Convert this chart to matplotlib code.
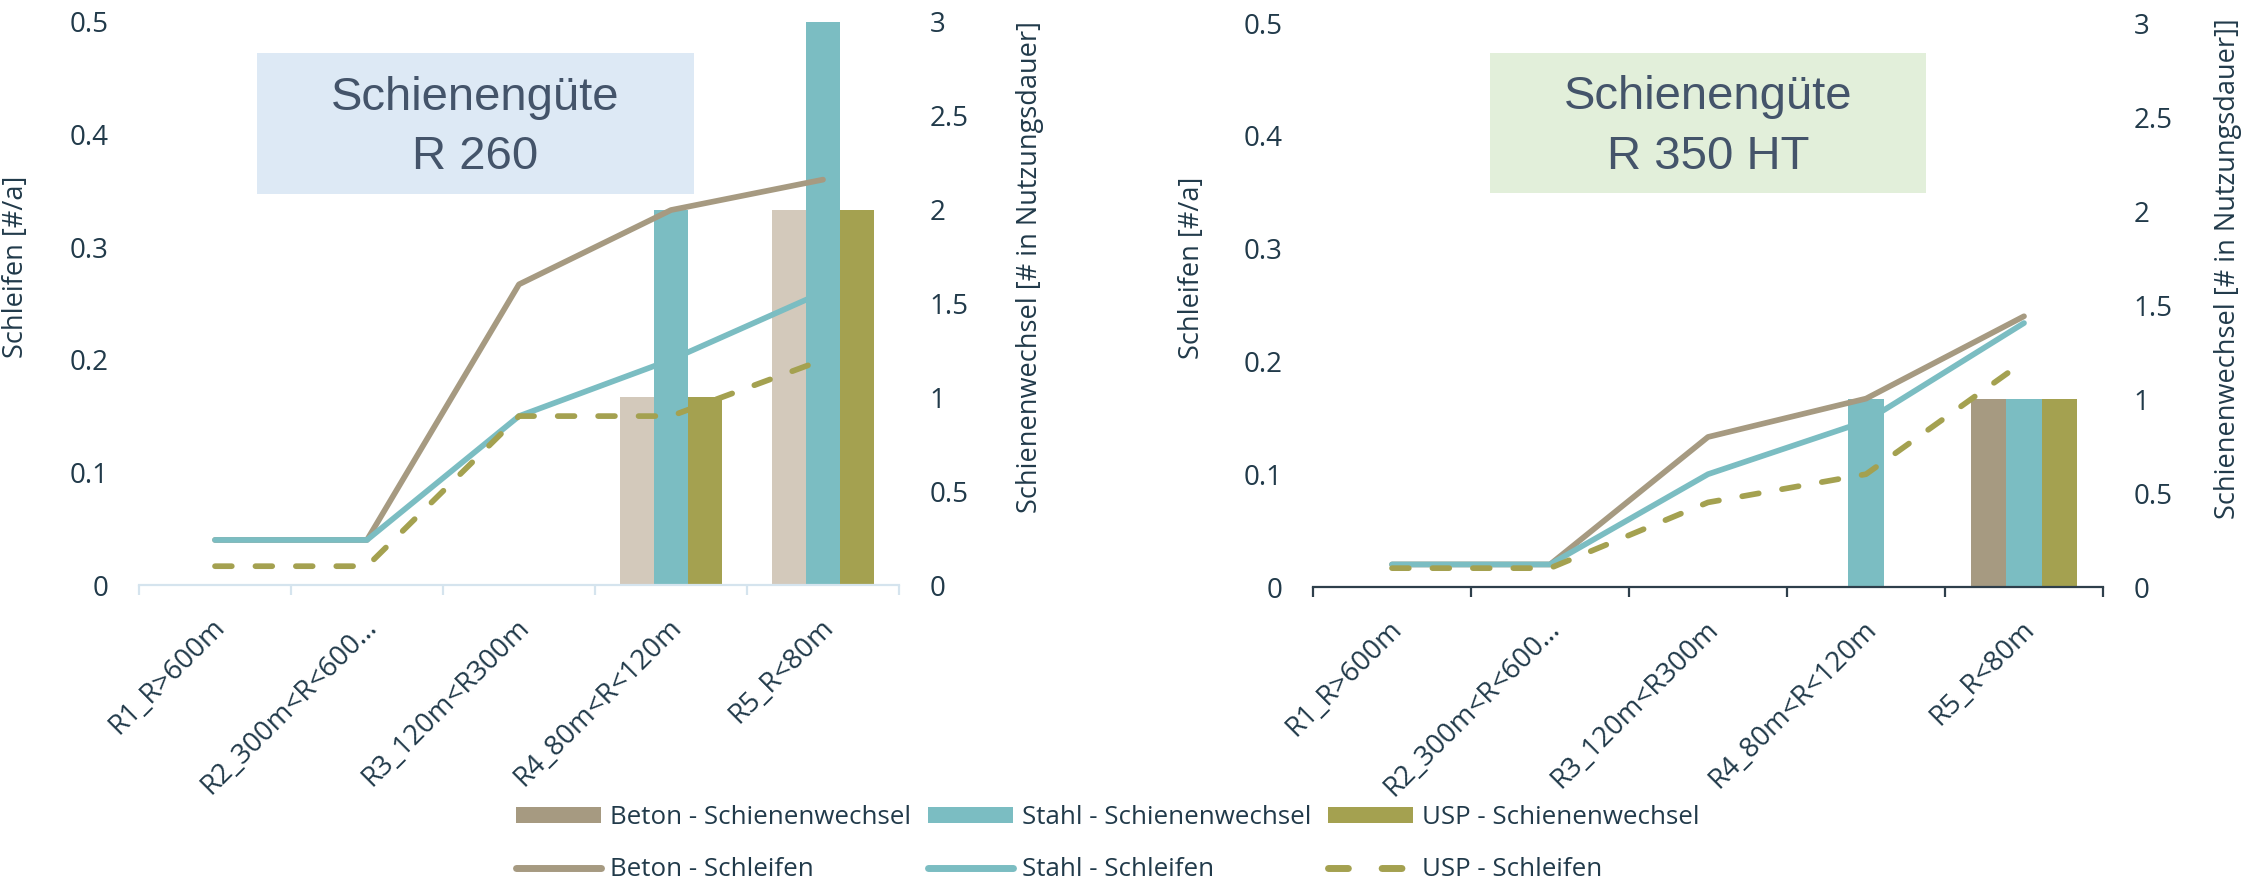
import matplotlib
matplotlib.use("Agg")
import matplotlib.pyplot as plt
import matplotlib.transforms as mtransforms
from matplotlib.patches import Rectangle, Patch
from matplotlib.lines import Line2D
import numpy as np

# ---- data -------------------------------------------------------------
categories = ["R1_R>600m", "R2_300m<R<600…", "R3_120m<R300m",
              "R4_80m<R<120m", "R5_R<80m"]

# R 260: rail changes (right axis) and grinding per year (left axis)
r260_beton_wechsel = [0, 0, 0, 1, 2]
r260_stahl_wechsel = [0, 0, 0, 2, 3]
r260_usp_wechsel = [0, 0, 0, 1, 2]
r260_beton_schleifen = [0.04, 0.04, 0.267, 0.333, 0.36]
r260_stahl_schleifen = [0.04, 0.04, 0.15, 0.20, 0.26]
r260_usp_schleifen = [0.0167, 0.0167, 0.15, 0.15, 0.20]

# R 350 HT
r350_beton_wechsel = [0, 0, 0, 0, 1]
r350_stahl_wechsel = [0, 0, 0, 1, 1]
r350_usp_wechsel = [0, 0, 0, 0, 1]
r350_beton_schleifen = [0.02, 0.02, 0.133, 0.167, 0.24]
r350_stahl_schleifen = [0.02, 0.02, 0.10, 0.147, 0.234]
r350_usp_schleifen = [0.0167, 0.0167, 0.075, 0.10, 0.20]

panel_titles = ["Schienengüte\nR 260", "Schienengüte\nR 350 HT"]
left_axis_label = "Schleifen [#/a]"
right_axis_labels = ["Schienenwechsel [# in Nutzungsdauer]",
                     "Schienenwechsel [# in Nutzungsdauer]]"]
left_ticks = [0, 0.1, 0.2, 0.3, 0.4, 0.5]
right_ticks = [0, 0.5, 1, 1.5, 2, 2.5, 3]
left_tick_labels = ["0", "0.1", "0.2", "0.3", "0.4", "0.5"]
right_tick_labels = ["0", "0.5", "1", "1.5", "2", "2.5", "3"]

# ---- style ------------------------------------------------------------
C_BETON = "#a69a81"
C_BETON_LIGHT = "#d3c9bb"
C_STAHL = "#7bbdc2"
C_USP = "#a4a150"
C_TEXT = "#213a4a"
C_BOX_TEXT = "#44546a"
FONT = "Open Sans"
BOX_FONT = "Liberation Sans"

W, H, DPI = 2246, 886, 100
fig = plt.figure(figsize=(W / DPI, H / DPI), dpi=DPI)


def px_rect(x0, x1, y_top, y_bot):
    return [x0 / W, 1 - y_bot / H, (x1 - x0) / W, (y_bot - y_top) / H]


def draw_panel(rect, beton_w, stahl_w, usp_w, beton_s, stahl_s, usp_s,
               beton_bar_color, spine_color, title, box_px, box_color,
               ylab_x, ylab2_x, ylab2):
    ax = fig.add_axes(rect)
    ax2 = ax.twinx()
    ax.set_zorder(ax2.get_zorder() + 1)
    ax.patch.set_visible(False)

    x = np.arange(len(categories))
    bw = 0.224
    ax2.bar(x - bw, beton_w, bw, color=beton_bar_color, linewidth=0)
    ax2.bar(x, stahl_w, bw, color=C_STAHL, linewidth=0)
    ax2.bar(x + bw, usp_w, bw, color=C_USP, linewidth=0)

    lw = 4.1
    ax.plot(x, beton_s, color=C_BETON, lw=lw, solid_capstyle="round",
            solid_joinstyle="round")
    ax.plot(x, stahl_s, color=C_STAHL, lw=lw, solid_capstyle="round",
            solid_joinstyle="round")
    ax.plot(x, usp_s, color=C_USP, lw=lw, ls=(0, (2.95, 4.15)),
            dash_capstyle="round", solid_joinstyle="round")

    ax.set_xlim(-0.5, len(categories) - 0.5)
    ax.set_ylim(0, 0.5)
    ax2.set_ylim(0, 3)

    for a in (ax, ax2):
        for s in a.spines.values():
            s.set_visible(False)
    ax.spines["bottom"].set_visible(True)
    ax.spines["bottom"].set_color(spine_color)
    ax.spines["bottom"].set_linewidth(1.6)

    # category boundaries carry the tick marks
    ax.set_xticks(np.arange(-0.5, len(categories), 1.0))
    ax.set_xticklabels([])
    ax.tick_params(axis="x", length=7, width=1.6, color=spine_color,
                   direction="out")

    ax.set_yticks(left_ticks)
    ax.set_yticklabels(left_tick_labels)
    ax2.set_yticks(right_ticks)
    ax2.set_yticklabels(right_tick_labels)
    for a in (ax, ax2):
        a.tick_params(axis="y", length=0, pad=22, labelsize=20,
                      labelcolor=C_TEXT)
        for lab in a.get_yticklabels():
            lab.set_fontfamily(FONT)

    # rotated category labels
    off = mtransforms.ScaledTranslation(6 / DPI, -38 / DPI, fig.dpi_scale_trans)
    trans = ax.get_xaxis_transform() + off
    for i, cat in enumerate(categories):
        ax.text(i, 0, cat, transform=trans, rotation=45,
                rotation_mode="anchor", ha="right", va="center",
                fontsize=20, family=FONT, color=C_TEXT)

    ax.set_ylabel(left_axis_label, fontsize=19.5, family=FONT,
                  color=C_TEXT)
    ax.yaxis.set_label_coords(ylab_x, 0.565)
    ax2.set_ylabel(ylab2, fontsize=19.5, family=FONT, color=C_TEXT,
                   rotation=90)
    ax2.yaxis.set_label_coords(ylab2_x, 0.565)

    # title box
    bx0, bx1, by0, by1 = box_px
    fig.add_artist(Rectangle((bx0 / W, 1 - by1 / H), (bx1 - bx0) / W,
                             (by1 - by0) / H, transform=fig.transFigure,
                             facecolor=box_color, edgecolor="none"))
    fig.text((bx0 + bx1) / 2 / W, 1 - ((by0 + by1) / 2 + 4) / H, title,
             ha="center", va="center", multialignment="center",
             fontsize=34, family=BOX_FONT, color=C_BOX_TEXT, linespacing=1.45)
    return ax, ax2


draw_panel(px_rect(139, 899, 22, 585),
           r260_beton_wechsel, r260_stahl_wechsel, r260_usp_wechsel,
           r260_beton_schleifen, r260_stahl_schleifen, r260_usp_schleifen,
           C_BETON_LIGHT, "#d5e4ee", panel_titles[0],
           (257, 694, 53, 194), "#dde9f5", -0.1434, 1.154,
           right_axis_labels[0])

draw_panel(px_rect(1313, 2103, 23, 587),
           r350_beton_wechsel, r350_stahl_wechsel, r350_usp_wechsel,
           r350_beton_schleifen, r350_stahl_schleifen, r350_usp_schleifen,
           C_BETON, "#2e3f4b", panel_titles[1],
           (1490, 1926, 53, 193), "#e2efda", -0.1354, 1.1405,
           right_axis_labels[1])

# ---- shared legend ----------------------------------------------------
handles = [
    Patch(facecolor=C_BETON, edgecolor="none"),
    Line2D([], [], color=C_BETON, lw=5, solid_capstyle="round"),
    Patch(facecolor=C_STAHL, edgecolor="none"),
    Line2D([], [], color=C_STAHL, lw=5, solid_capstyle="round"),
    Patch(facecolor=C_USP, edgecolor="none"),
    Line2D([], [], color=C_USP, lw=5, ls=(0, (2.86, 4.86)),
           dash_capstyle="round"),
]
labels = ["Beton - Schienenwechsel", "Beton - Schleifen",
          "Stahl - Schienenwechsel", "Stahl - Schleifen",
          "USP - Schienenwechsel", "USP - Schleifen"]
fs_leg = 18.6
leg = fig.legend(handles, labels, loc="center", ncol=3,
                 bbox_to_anchor=(1108 / W, 1 - 843.5 / H),
                 frameon=False, prop={"family": FONT, "size": fs_leg},
                 handlelength=61.2 / fs_leg, handleheight=0.55,
                 handletextpad=6.5 / fs_leg, columnspacing=12 / fs_leg,
                 labelspacing=1.05, borderpad=0)
for t in leg.get_texts():
    t.set_color(C_TEXT)

fig.savefig("out.png", dpi=DPI)
